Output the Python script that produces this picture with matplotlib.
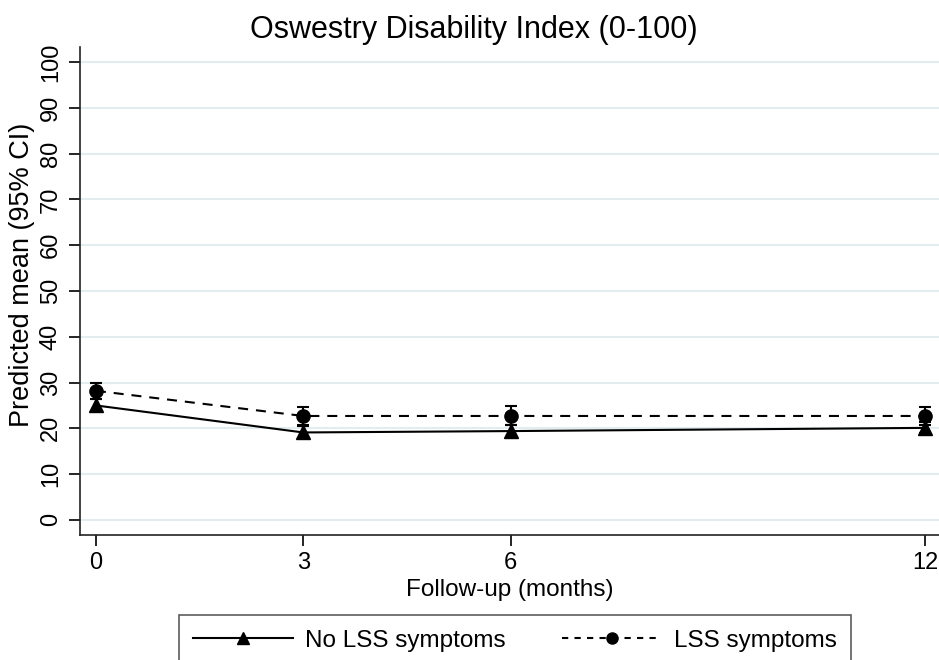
import matplotlib
matplotlib.use("Agg")
import matplotlib.pyplot as plt
from matplotlib.lines import Line2D

plt.rcParams['font.family'] = ['Liberation Sans', 'DejaVu Sans']

months = [0, 3, 6, 12]
x_ticks = [0, 3, 6, 12]
y_ticks = list(range(0, 101, 10))

no_lss_mean = [25.0, 19.1, 19.4, 20.1]
no_lss_lo = [23.8, 17.8, 18.2, 18.9]
no_lss_hi = [26.3, 20.6, 20.7, 21.3]

lss_mean = [28.2, 22.7, 22.7, 22.7]
lss_lo = [26.4, 20.8, 20.7, 20.8]
lss_hi = [30.0, 24.7, 24.9, 24.7]

W, H = 939, 660
fig = plt.figure(figsize=(W / 100, H / 100), dpi=100)
ax = fig.add_axes([80 / W, 1 - 535 / H, 1 - 80 / W, (535 - 47) / H])

for y in y_ticks:
    ax.axhline(y, color='#e3edf0', lw=1.5, zorder=0)

def err(m, lo, hi):
    return [[a - b for a, b in zip(m, lo)], [c - a for a, c in zip(m, hi)]]

ax.errorbar(months, no_lss_mean, yerr=err(no_lss_mean, no_lss_lo, no_lss_hi),
            color='black', lw=1.5, ls='-', marker='^', ms=9.5, capsize=4.5,
            elinewidth=1.5, capthick=1.5, zorder=3)
ax.errorbar(months, lss_mean, yerr=err(lss_mean, lss_lo, lss_hi),
            color='black', lw=1.5, ls=(0, (4.8, 3.8)), marker='o', ms=9.5, capsize=4.5,
            elinewidth=1.5, capthick=1.5, zorder=3)

ax.set_xlim(-0.23, 12.2)
ax.set_ylim(-3.3, 103.3)
ax.set_xticks(x_ticks)
ax.set_yticks(y_ticks)
ax.tick_params(axis='y', labelrotation=90, labelsize=17, length=8, width=1.2, pad=5)
ax.tick_params(axis='x', labelsize=17, length=8, width=1.2, pad=4)
for lab in ax.get_yticklabels():
    lab.set_va('center')
for s in ['top', 'right']:
    ax.spines[s].set_visible(False)
for s in ['left', 'bottom']:
    ax.spines[s].set_linewidth(1.2)
    ax.spines[s].set_color('#222222')

fig.text(473.5 / W, 1 - 30 / H, 'Oswestry Disability Index (0-100)', fontsize=22,
         ha='center', va='center')
fig.text(510 / W, 1 - 590 / H, 'Follow-up (months)', fontsize=17.5,
         ha='center', va='center')
fig.text(22 / W, 1 - 275 / H, 'Predicted mean (95% CI)', fontsize=19.5,
         ha='center', va='center', rotation=90)

handles = [Line2D([], [], color='black', lw=1.5, marker='^', ms=8),
           Line2D([], [], color='black', lw=1.5, ls=(0, (3, 3)), marker='o', ms=8)]
leg = fig.legend(handles, ['No LSS symptoms', 'LSS symptoms'], ncol=2,
                 loc='upper center', bbox_to_anchor=(515 / W, 1 - 615 / H), fontsize=17.5,
                 frameon=True, fancybox=False, edgecolor='#333333',
                 handlelength=4.1, handletextpad=0.5, columnspacing=2.3,
                 borderpad=0.6, borderaxespad=0)
leg.get_frame().set_linewidth(1.2)

fig.savefig('out.png', dpi=100)
